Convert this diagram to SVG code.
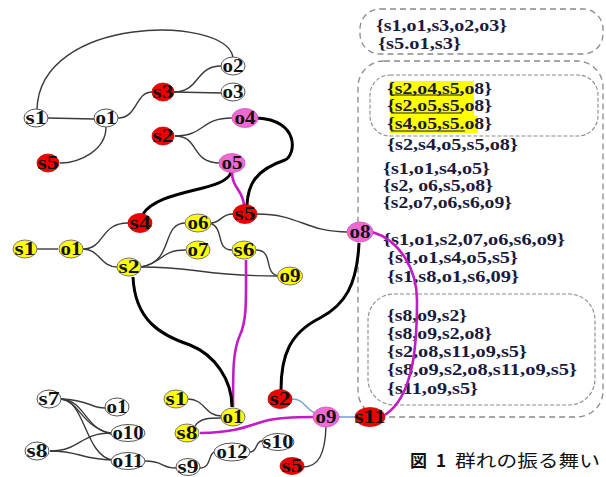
<svg xmlns="http://www.w3.org/2000/svg" width="606" height="477" viewBox="0 0 606 477">
<style>
.e{fill:none;stroke:#3a3a3a;stroke-width:1.4}
.t{fill:none;stroke:#000;stroke-width:3}
.m{fill:none;stroke:#c21cc2;stroke-width:2.6}
.b{fill:none;stroke:#7aa3d6;stroke-width:1.6}
.w{fill:#fff;stroke:#555;stroke-width:1}
.r{fill:#f20000;stroke:#c00;stroke-width:0.8}
.y{fill:#ffff00;stroke:#777;stroke-width:1}
.p{fill:#f06ad4;stroke:#d050b8;stroke-width:0.8}
.l{font-family:"Liberation Serif","DejaVu Serif",serif;font-weight:bold;font-size:18px;fill:#111;text-anchor:middle}
.tx{font-family:"Liberation Serif","DejaVu Serif",serif;font-weight:bold;font-size:16px;fill:#1a1a3c}
.box{fill:none;stroke:#8a8a8a;stroke-width:1.3;stroke-dasharray:6 4}
.ibox{fill:none;stroke:#8a8a8a;stroke-width:1.1;stroke-dasharray:4 2}
.hl{fill:#ffff00}
.ul{stroke:#1a1a3c;stroke-width:1.2}
.cap{font-family:"Noto Sans CJK JP",sans-serif;font-size:17px;fill:#111}
</style>

<g id="panel">
<rect class="box" x="360" y="9" width="243" height="45" rx="20"/>
<rect class="box" x="358" y="61" width="245" height="356" rx="26"/>
<rect class="ibox" x="370" y="75" width="228" height="61" rx="20"/>
<rect class="ibox" x="368" y="294" width="227" height="111" rx="26"/>
<rect class="hl" x="390" y="81" width="84" height="17"/>
<rect class="hl" x="390" y="98" width="84" height="18"/>
<rect class="hl" x="390" y="116" width="88" height="17"/>
<line class="ul" x1="391" y1="95" x2="462" y2="95"/>
<line class="ul" x1="391" y1="113" x2="462" y2="113"/>
<line class="ul" x1="391" y1="131" x2="465" y2="131"/>
<text class="tx" x="376" y="31" textLength="131" lengthAdjust="spacingAndGlyphs">{s1,o1,s3,o2,o3}</text>
<text class="tx" x="378" y="49" textLength="83" lengthAdjust="spacingAndGlyphs">{s5.o1,s3}</text>
<text class="tx" x="387" y="94" textLength="105" lengthAdjust="spacingAndGlyphs">{s2,o4,s5,o8}</text>
<text class="tx" x="387" y="111" textLength="105" lengthAdjust="spacingAndGlyphs">{s2,o5,s5,o8}</text>
<text class="tx" x="387" y="129" textLength="105" lengthAdjust="spacingAndGlyphs">{s4,o5,s5.o8}</text>
<text class="tx" x="387" y="150" textLength="131" lengthAdjust="spacingAndGlyphs">{s2,s4,o5,s5,o8}</text>
<text class="tx" x="383" y="174" textLength="107" lengthAdjust="spacingAndGlyphs">{s1,o1,s4,o5}</text>
<text class="tx" x="383" y="191" textLength="110" lengthAdjust="spacingAndGlyphs">{s2, o6,s5,o8}</text>
<text class="tx" x="383" y="208" textLength="129" lengthAdjust="spacingAndGlyphs">{s2,o7,o6,s6,o9}</text>
<text class="tx" x="383" y="245" textLength="182" lengthAdjust="spacingAndGlyphs">{s1,o1,s2,07,o6,s6,o9}</text>
<text class="tx" x="387" y="263" textLength="131" lengthAdjust="spacingAndGlyphs">{s1,o1,s4,o5,s5}</text>
<text class="tx" x="387" y="282" textLength="132" lengthAdjust="spacingAndGlyphs">{s1,s8,o1,s6,09}</text>
<text class="tx" x="387" y="321" textLength="80" lengthAdjust="spacingAndGlyphs">{s8,o9,s2}</text>
<text class="tx" x="387" y="339" textLength="105" lengthAdjust="spacingAndGlyphs">{s8,o9,s2,o8}</text>
<text class="tx" x="387" y="357" textLength="140" lengthAdjust="spacingAndGlyphs">{s2,o8,s11,o9,s5}</text>
<text class="tx" x="387" y="375" textLength="190" lengthAdjust="spacingAndGlyphs">{s8,o9,s2,o8,s11,o9,s5}</text>
<text class="tx" x="387" y="394" textLength="91" lengthAdjust="spacingAndGlyphs">{s11,o9,s5}</text>
</g>

<g id="connectors">
<path class="e" d="M37,109 C40,15 225,15 233,57"/>
<path class="e" d="M48,118 L94,119"/>
<path class="e" d="M118,118 C138,118 135,92 152,92"/>
<path class="e" d="M106,127 C106,150 80,163 60,163"/>
<path class="e" d="M174,92 C200,92 195,66 221,66"/>
<path class="e" d="M174,92 L221,93"/>
<path class="e" d="M175,136 C205,136 200,118 232,118"/>
<path class="e" d="M175,136 C200,136 190,163 220,163"/>
<path class="t" d="M257,118 C300,120 296,155 285,160 C255,170 248,185 247,205"/>
<path class="t" d="M231,172 C226,192 160,188 143,214"/>
<path class="m" d="M232,172 C232,188 243,190 244,205"/>

<path class="e" d="M37,249 L58,249"/>
<path class="e" d="M83,249 C105,249 100,223 128,223"/>
<path class="e" d="M83,249 C100,249 100,267 117,267"/>
<path class="e" d="M141,267 C175,262 160,223 186,223"/>
<path class="e" d="M141,267 C165,262 160,250 186,250"/>
<path class="e" d="M141,267 C200,267 200,276 278,276"/>
<path class="e" d="M210,223 C222,223 220,214 233,214"/>
<path class="e" d="M210,223 C225,228 215,250 232,250"/>
<path class="e" d="M256,250 C275,250 262,275 280,276"/>
<path class="e" d="M257,214 C300,214 305,232 348,232"/>
<path class="m" d="M372,232 C400,240 417,270 417,300 C417,340 415,395 385,415"/>
<path class="t" d="M359,243 C357,285 345,305 320,318 C290,333 281,355 281,390"/>
<path class="m" d="M246,260 C246,300 247,320 240,335 C233,350 233,370 233,407"/>
<path class="t" d="M133,277 C135,320 160,335 190,345 C215,355 232,380 232,407"/>

<path class="e" d="M188,399 C205,399 205,416 221,416"/>
<path class="e" d="M195,426 C200,418 210,418 221,418"/>
<path class="m" d="M200,433 C240,432 250,425 265,421 C280,417 300,417 314,417"/>
<path class="b" d="M292,399 C305,399 305,410 316,413"/>
<path class="b" d="M338,417 L356,417"/>
<path class="e" d="M326,427 C325,455 318,467 303,467"/>
<path class="e" d="M61,399 C90,400 90,408 105,408"/>
<path class="e" d="M61,399 C85,400 85,430 111,433"/>
<path class="e" d="M61,399 C80,402 80,425 111,434"/>
<path class="e" d="M61,399 C85,400 85,455 112,460"/>
<path class="e" d="M50,451 C80,451 80,433 111,433"/>
<path class="e" d="M50,451 C80,451 80,459 112,460"/>
<path class="e" d="M145,461 C165,461 160,468 176,468"/>
<path class="e" d="M200,468 C212,468 208,452 215,452"/>
<path class="e" d="M250,452 C258,452 255,441 262,441"/>
</g>

<g id="n_s1_top"><ellipse class="w" cx="36" cy="118" rx="12" ry="9"/><text class="l" x="36" y="124" textLength="21" lengthAdjust="spacingAndGlyphs">s1</text></g>
<g id="n_o1_top"><ellipse class="w" cx="106" cy="118" rx="12" ry="9"/><text class="l" x="106" y="124" textLength="21" lengthAdjust="spacingAndGlyphs">o1</text></g>
<g id="n_s3_top"><ellipse class="r" cx="163" cy="92" rx="11" ry="9"/><text class="l" x="163" y="98" textLength="21" lengthAdjust="spacingAndGlyphs">s3</text></g>
<g id="n_o2_top"><ellipse class="w" cx="233" cy="66" rx="12" ry="9"/><text class="l" x="233" y="72" textLength="21" lengthAdjust="spacingAndGlyphs">o2</text></g>
<g id="n_o3_top"><ellipse class="w" cx="233" cy="92" rx="12" ry="9"/><text class="l" x="233" y="98" textLength="21" lengthAdjust="spacingAndGlyphs">o3</text></g>
<g id="n_s5_top"><ellipse class="r" cx="48" cy="163" rx="11" ry="9"/><text class="l" x="48" y="169" textLength="21" lengthAdjust="spacingAndGlyphs">s5</text></g>
<g id="n_s2_top"><ellipse class="r" cx="163" cy="136" rx="11" ry="9"/><text class="l" x="163" y="142" textLength="21" lengthAdjust="spacingAndGlyphs">s2</text></g>
<g id="n_o4_top"><ellipse class="p" cx="245" cy="118" rx="13" ry="9.5"/><text class="l" x="245" y="124" textLength="21" lengthAdjust="spacingAndGlyphs">o4</text></g>
<g id="n_o5_top"><ellipse class="p" cx="232" cy="163" rx="13" ry="9.5"/><text class="l" x="232" y="169" textLength="21" lengthAdjust="spacingAndGlyphs">o5</text></g>

<g id="n_s1_mid"><ellipse class="y" cx="25" cy="249" rx="12" ry="9"/><text class="l" x="25" y="255" textLength="21" lengthAdjust="spacingAndGlyphs">s1</text></g>
<g id="n_o1_mid"><ellipse class="y" cx="71" cy="249" rx="12" ry="9"/><text class="l" x="71" y="255" textLength="21" lengthAdjust="spacingAndGlyphs">o1</text></g>
<g id="n_s4_mid"><ellipse class="r" cx="140" cy="223" rx="12" ry="9.5"/><text class="l" x="140" y="229" textLength="21" lengthAdjust="spacingAndGlyphs">s4</text></g>
<g id="n_s2_mid"><ellipse class="y" cx="129" cy="267" rx="12" ry="9"/><text class="l" x="129" y="273" textLength="21" lengthAdjust="spacingAndGlyphs">s2</text></g>
<g id="n_o6_mid"><ellipse class="y" cx="198" cy="223" rx="13" ry="9"/><text class="l" x="198" y="229" textLength="21" lengthAdjust="spacingAndGlyphs">o6</text></g>
<g id="n_o7_mid"><ellipse class="y" cx="198" cy="250" rx="12" ry="9"/><text class="l" x="198" y="256" textLength="21" lengthAdjust="spacingAndGlyphs">o7</text></g>
<g id="n_s5_mid"><ellipse class="r" cx="245" cy="214" rx="12" ry="9.5"/><text class="l" x="245" y="220" textLength="21" lengthAdjust="spacingAndGlyphs">s5</text></g>
<g id="n_s6_mid"><ellipse class="y" cx="244" cy="250" rx="12" ry="9"/><text class="l" x="244" y="256" textLength="21" lengthAdjust="spacingAndGlyphs">s6</text></g>
<g id="n_o9_mid"><ellipse class="y" cx="290" cy="276" rx="12.5" ry="9"/><text class="l" x="290" y="282" textLength="21" lengthAdjust="spacingAndGlyphs">o9</text></g>
<g id="n_o8_mid"><ellipse class="p" cx="360" cy="232" rx="13" ry="10"/><text class="l" x="360" y="238" textLength="21" lengthAdjust="spacingAndGlyphs">o8</text></g>

<g id="n_s7_bot"><ellipse class="w" cx="49" cy="399" rx="12" ry="9"/><text class="l" x="49" y="405" textLength="21" lengthAdjust="spacingAndGlyphs">s7</text></g>
<g id="n_o1_bot"><ellipse class="w" cx="117" cy="407" rx="12" ry="9"/><text class="l" x="117" y="413" textLength="21" lengthAdjust="spacingAndGlyphs">o1</text></g>
<g id="n_o10_bot"><ellipse class="w" cx="128" cy="433" rx="17" ry="8.5"/><text class="l" x="128" y="439" textLength="31" lengthAdjust="spacingAndGlyphs">o10</text></g>
<g id="n_s8_bot"><ellipse class="w" cx="37" cy="451" rx="12" ry="9"/><text class="l" x="37" y="457" textLength="21" lengthAdjust="spacingAndGlyphs">s8</text></g>
<g id="n_o11_bot"><ellipse class="w" cx="128" cy="461" rx="17" ry="8.5"/><text class="l" x="128" y="467" textLength="31" lengthAdjust="spacingAndGlyphs">o11</text></g>
<g id="n_s9_bot"><ellipse class="w" cx="188" cy="467" rx="12" ry="8.5"/><text class="l" x="188" y="473" textLength="21" lengthAdjust="spacingAndGlyphs">s9</text></g>
<g id="n_o12_bot"><ellipse class="w" cx="232" cy="452" rx="18" ry="9"/><text class="l" x="232" y="458" textLength="31" lengthAdjust="spacingAndGlyphs">o12</text></g>
<g id="n_s10_bot"><ellipse class="w" cx="278" cy="442" rx="16" ry="8.5"/><text class="l" x="278" y="448" textLength="31" lengthAdjust="spacingAndGlyphs">s10</text></g>
<g id="n_s1_bot"><ellipse class="y" cx="176" cy="399" rx="12" ry="9"/><text class="l" x="176" y="405" textLength="21" lengthAdjust="spacingAndGlyphs">s1</text></g>
<g id="n_o1y_bot"><ellipse class="y" cx="233" cy="417" rx="12" ry="9"/><text class="l" x="233" y="423" textLength="21" lengthAdjust="spacingAndGlyphs">o1</text></g>
<g id="n_s8y_bot"><ellipse class="y" cx="187" cy="433" rx="12" ry="9"/><text class="l" x="187" y="439" textLength="21" lengthAdjust="spacingAndGlyphs">s8</text></g>
<g id="n_s2_bot"><ellipse class="r" cx="280" cy="399" rx="12" ry="9.5"/><text class="l" x="280" y="405" textLength="21" lengthAdjust="spacingAndGlyphs">s2</text></g>
<g id="n_o9_bot"><ellipse class="p" cx="326" cy="417" rx="13" ry="10"/><text class="l" x="326" y="423" textLength="21" lengthAdjust="spacingAndGlyphs">o9</text></g>
<g id="n_s11_bot"><ellipse class="r" cx="370" cy="417" rx="15" ry="9.5"/><text class="l" x="370" y="423" textLength="31" lengthAdjust="spacingAndGlyphs">s11</text></g>
<g id="n_s5_bot"><ellipse class="r" cx="292" cy="466" rx="12" ry="8.5"/><text class="l" x="292" y="472" textLength="21" lengthAdjust="spacingAndGlyphs">s5</text></g>

<g id="caption">
<text class="cap" x="410" y="467" font-weight="bold" font-size="19">図</text>
<text class="cap" x="436" y="467" font-weight="bold" font-size="19">1</text>
<text class="cap" x="455" y="467" textLength="145" lengthAdjust="spacingAndGlyphs">群れの振る舞い</text>
</g>
</svg>
